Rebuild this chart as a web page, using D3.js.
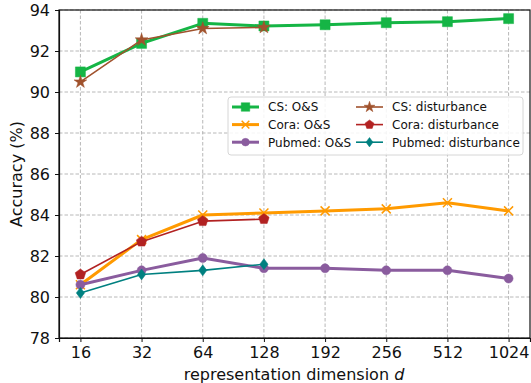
<!DOCTYPE html>
<html>
<head>
<meta charset="utf-8">
<script src="https://cdn.jsdelivr.net/npm/d3@7/dist/d3.min.js"></script>
<style>
  html, body { margin: 0; padding: 0; background: #fff; }
  svg { display: block; font-family: "DejaVu Sans", sans-serif; }
</style>
</head>
<body>
<svg id="chart" width="531" height="383"></svg>
<script>
// Representation dimensions (categorical x positions)
const dims = ["16", "32", "64", "128", "192", "256", "512", "1024"];
const yTicks = [78, 80, 82, 84, 86, 88, 90, 92, 94];

// Accuracy (%) per setting
const csOS      = [90.98, 92.37, 93.35, 93.22, 93.28, 93.38, 93.43, 93.58];
const coraOS    = [80.6, 82.8, 84.0, 84.1, 84.2, 84.3, 84.6, 84.2];
const pubmedOS  = [80.6, 81.3, 81.9, 81.4, 81.4, 81.3, 81.3, 80.9];
const csDist    = [90.49, 92.54, 93.1, 93.15];
const coraDist  = [81.1, 82.7, 83.7, 83.8];
const pubmedDist = [80.2, 81.1, 81.3, 81.6];

const series = [
  { name: "CS: O&S", values: csOS, color: "#15b545", width: 3, marker: "square", size: 10 },
  { name: "Cora: O&S", values: coraOS, color: "#ff9a00", width: 3, marker: "x", size: 9 },
  { name: "Pubmed: O&S", values: pubmedOS, color: "#8a5c9e", width: 3, marker: "circle", size: 9 },
  { name: "CS: disturbance", values: csDist, color: "#a0522d", width: 1.6, marker: "star", size: 11 },
  { name: "Cora: disturbance", values: coraDist, color: "#b22222", width: 1.6, marker: "pentagon", size: 11 },
  { name: "Pubmed: disturbance", values: pubmedDist, color: "#008080", width: 1.6, marker: "diamond", size: 11 }
];

const svg = d3.select("#chart");
const plotL = 59, plotR = 530, plotT = 10, plotB = 338;

const x = d3.scalePoint().domain(dims).range([plotL, plotR]).padding(0.35);
const y = d3.scaleLinear().domain([78, 94]).range([plotB, plotT]);

// Grid
const grid = svg.append("g");
grid.selectAll(".gy").data(yTicks).join("line")
  .attr("x1", plotL).attr("x2", plotR)
  .attr("y1", d => y(d)).attr("y2", d => y(d))
  .attr("stroke", "#b0b0b0").attr("stroke-width", 0.9).attr("stroke-dasharray", "3.5,2");
grid.selectAll(".gx").data(dims).join("line")
  .attr("x1", d => x(d)).attr("x2", d => x(d))
  .attr("y1", plotT).attr("y2", plotB)
  .attr("stroke", "#b0b0b0").attr("stroke-width", 0.9).attr("stroke-dasharray", "3.5,2");

// Axes
const xAxis = svg.append("g").attr("transform", `translate(0,${plotB})`)
  .call(d3.axisBottom(x).tickSize(4).tickPadding(5));
const yAxis = svg.append("g").attr("transform", `translate(${plotL},0)`)
  .call(d3.axisLeft(y).tickValues(yTicks).tickSize(4).tickPadding(5).tickFormat(d3.format("d")));
[xAxis, yAxis].forEach(a => {
  a.selectAll("text").attr("font-size", 16).attr("fill", "#111").attr("font-family", "DejaVu Sans, sans-serif");
  a.selectAll("line").attr("stroke", "#111");
  a.select(".domain").attr("stroke", "#111").attr("stroke-width", 1.2);
});

// Frame
svg.append("rect").attr("x", plotL).attr("y", plotT)
  .attr("width", plotR - plotL).attr("height", plotB - plotT)
  .attr("fill", "none").attr("stroke", "#111").attr("stroke-width", 1.2);

// Marker shapes
function markerPath(type, s) {
  const r = s / 2;
  switch (type) {
    case "square": return `M${-r},${-r}H${r}V${r}H${-r}Z`;
    case "diamond": return `M0,${-r}L${r * 0.75},0L0,${r}L${-r * 0.75},0Z`;
    case "circle": return d3.symbol(d3.symbolCircle, Math.PI * r * r)();
    case "star": return d3.symbol(d3.symbolStar, s * s * 0.42)();
    case "pentagon": {
      const pts = d3.range(5).map(i => {
        const a = -Math.PI / 2 + i * 2 * Math.PI / 5;
        return [r * Math.cos(a), r * Math.sin(a)];
      });
      return "M" + pts.map(p => p.join(",")).join("L") + "Z";
    }
    case "x": return `M${-r},${-r}L${r},${r}M${-r},${r}L${r},${-r}`;
  }
}

function drawMarker(g, type, s, color, cx, cy) {
  const p = g.append("path").attr("d", markerPath(type, s))
    .attr("transform", `translate(${cx},${cy})`);
  if (type === "x") p.attr("fill", "none").attr("stroke", color).attr("stroke-width", 1.5);
  else p.attr("fill", color).attr("stroke", color).attr("stroke-width", 0.5);
}

const line = d3.line().x((d, i) => x(dims[i])).y(d => y(d));
const plot = svg.append("g");
series.forEach(s => {
  const g = plot.append("g");
  g.append("path").datum(s.values).attr("d", line)
    .attr("fill", "none").attr("stroke", s.color).attr("stroke-width", s.width)
    .attr("stroke-linejoin", "round");
  s.values.forEach((v, i) => drawMarker(g, s.marker, s.size, s.color, x(dims[i]), y(v)));
});

// Legend
const lg = svg.append("g");
lg.append("rect").attr("x", 228).attr("y", 97).attr("width", 295).attr("height", 58)
  .attr("rx", 3).attr("fill", "#fff").attr("fill-opacity", 0.85)
  .attr("stroke", "#d6d6d6").attr("stroke-width", 1);
series.forEach((s, i) => {
  const col = Math.floor(i / 3), row = i % 3;
  const hx = col === 0 ? 232 : 356;
  const ty = 107 + row * 17.6;
  lg.append("line").attr("x1", hx).attr("x2", hx + 27).attr("y1", ty).attr("y2", ty)
    .attr("stroke", s.color).attr("stroke-width", s.width);
  drawMarker(lg, s.marker, s.size * 0.85, s.color, hx + 13.5, ty);
  lg.append("text").attr("x", hx + 36).attr("y", ty + 4.3)
    .attr("font-size", 12).attr("fill", "#111").text(s.name);
});

// Axis titles
svg.append("text").attr("transform", "translate(22,174) rotate(-90)")
  .attr("text-anchor", "middle").attr("font-size", 16).attr("fill", "#111")
  .text("Accuracy (%)");
const xl = svg.append("text").attr("x", 294).attr("y", 380)
  .attr("text-anchor", "middle").attr("font-size", 16).attr("fill", "#111");
xl.append("tspan").text("representation dimension ");
xl.append("tspan").attr("font-style", "italic").text("d");
</script>
</body>
</html>
